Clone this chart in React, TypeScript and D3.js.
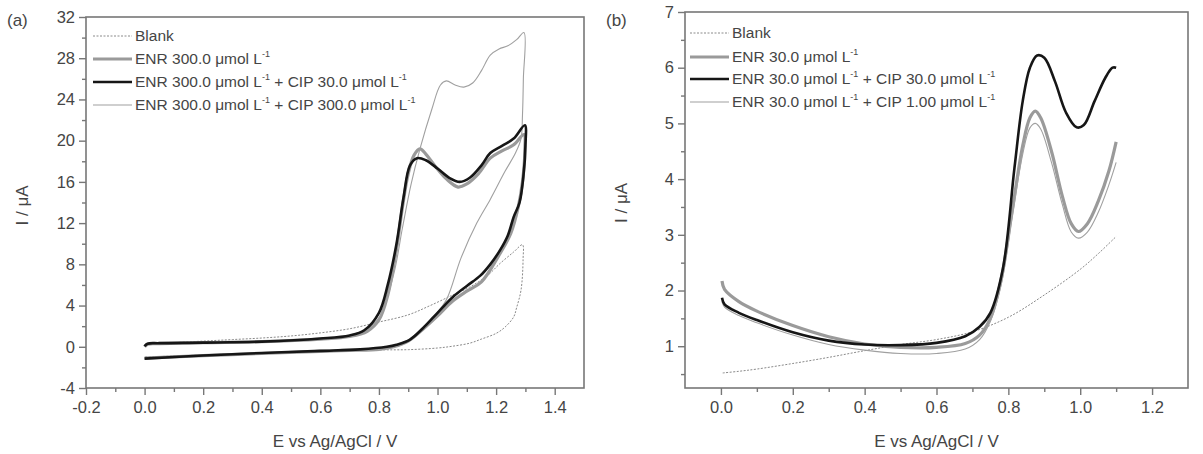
import React, { useEffect, useRef } from 'react';
import * as d3 from 'd3';

type Pt = [number, number];

// Panel (a): cyclic voltammograms, ENR 300 µmol/L
const aBlank: Pt[] = [
  [0.0, 0.15], [0.02, 0.3], [0.1, 0.4], [0.2, 0.55], [0.3, 0.7], [0.4, 0.85], [0.5, 1.05],
  [0.6, 1.35], [0.7, 1.75], [0.8, 2.4], [0.9, 3.1], [0.975, 4.0], [1.05, 5.0], [1.11, 5.8],
  [1.17, 6.9], [1.214, 8.1], [1.26, 9.2], [1.29, 9.9],
  [1.292, 8.5], [1.285, 5.5], [1.27, 3.8], [1.26, 2.9], [1.23, 1.9], [1.2, 1.3], [1.15, 0.75],
  [1.11, 0.35], [1.05, 0.05], [1.0, -0.12], [0.9, -0.28], [0.8, -0.3], [0.7, -0.35],
  [0.6, -0.45], [0.4, -0.6], [0.2, -0.8], [0.0, -1.0],
];
const aEnr: Pt[] = [
  [0.0, 0.0], [0.01, 0.25], [0.05, 0.3], [0.2, 0.4], [0.4, 0.5], [0.6, 0.75], [0.7, 1.0],
  [0.76, 1.5], [0.8, 2.6], [0.83, 5.0], [0.86, 9.5], [0.88, 13.5], [0.9, 16.8], [0.92, 18.6],
  [0.94, 19.2], [0.96, 18.7], [0.99, 17.6], [1.03, 16.3], [1.07, 15.5], [1.1, 15.8],
  [1.14, 16.8], [1.18, 18.3], [1.22, 19.0], [1.26, 19.6], [1.295, 20.6],
  [1.298, 19.0], [1.29, 16.0], [1.275, 13.5], [1.25, 11.0], [1.21, 8.9], [1.15, 6.3],
  [1.1, 5.4], [1.05, 4.4], [1.0, 3.0], [0.95, 1.7], [0.9, 0.55], [0.85, 0.0], [0.8, -0.25],
  [0.7, -0.35], [0.6, -0.45], [0.4, -0.65], [0.2, -0.85], [0.0, -1.1],
];
const aCip30: Pt[] = [
  [0.0, 0.05], [0.01, 0.3], [0.05, 0.35], [0.2, 0.4], [0.4, 0.5], [0.6, 0.8], [0.7, 1.1],
  [0.75, 1.6], [0.8, 3.3], [0.83, 6.0], [0.86, 10.0], [0.884, 14.5], [0.906, 17.6],
  [0.93, 18.3], [0.96, 18.1], [1.0, 17.3], [1.04, 16.4], [1.076, 16.0], [1.11, 16.4],
  [1.15, 17.6], [1.18, 18.8], [1.22, 19.5], [1.26, 20.2], [1.298, 21.5],
  [1.3, 19.5], [1.293, 16.5], [1.28, 14.0], [1.26, 12.6], [1.24, 10.8], [1.214, 9.4],
  [1.18, 8.0], [1.146, 6.9], [1.1, 5.9], [1.055, 4.9], [1.02, 3.9], [0.987, 2.9],
  [0.95, 1.8], [0.906, 0.7], [0.86, 0.2], [0.827, 0.0], [0.736, -0.25], [0.6, -0.4],
  [0.4, -0.6], [0.2, -0.85], [0.0, -1.15],
];
const aCip300: Pt[] = [
  [0.0, 0.05], [0.01, 0.3], [0.2, 0.4], [0.4, 0.5], [0.6, 0.8], [0.7, 1.1], [0.75, 1.6],
  [0.8, 2.8], [0.85, 7.0], [0.88, 11.5], [0.91, 15.8], [0.94, 19.2], [0.98, 23.0],
  [1.01, 25.4], [1.03, 25.8], [1.06, 25.4], [1.09, 25.2], [1.12, 25.6], [1.15, 26.8],
  [1.18, 28.3], [1.21, 28.9], [1.24, 29.2], [1.27, 29.8], [1.295, 30.5],
  [1.293, 26.0], [1.29, 22.5], [1.285, 20.2], [1.266, 18.8], [1.23, 17.0], [1.18, 14.3],
  [1.134, 12.0], [1.08, 8.6], [1.031, 4.6], [0.99, 3.0], [0.95, 1.8], [0.906, 0.7],
  [0.86, 0.15], [0.8, -0.2], [0.6, -0.4], [0.4, -0.6], [0.2, -0.85], [0.0, -1.1],
];

// Panel (b): ENR 30 µmol/L
const bBlank: Pt[] = [
  [0.005, 0.52], [0.05, 0.55], [0.1, 0.59], [0.2, 0.69], [0.3, 0.8], [0.4, 0.92], [0.5, 1.03],
  [0.6, 1.12], [0.7, 1.26], [0.8, 1.52], [0.9, 1.92], [1.0, 2.38], [1.05, 2.66], [1.1, 2.97],
];
const bEnr: Pt[] = [
  [0.003, 2.17], [0.01, 2.02], [0.05, 1.8], [0.1, 1.63], [0.2, 1.37], [0.3, 1.17], [0.4, 1.04],
  [0.5, 0.98], [0.6, 0.98], [0.68, 1.05], [0.72, 1.2], [0.75, 1.5], [0.78, 2.2], [0.81, 3.4],
  [0.84, 4.6], [0.86, 5.1], [0.875, 5.22], [0.89, 5.1], [0.92, 4.5], [0.95, 3.7], [0.975, 3.2],
  [0.995, 3.06], [1.02, 3.2], [1.05, 3.6], [1.08, 4.15], [1.1, 4.67],
];
const bCip30: Pt[] = [
  [0.003, 1.87], [0.01, 1.75], [0.05, 1.6], [0.1, 1.47], [0.2, 1.25], [0.3, 1.1], [0.4, 1.03],
  [0.5, 1.02], [0.6, 1.06], [0.68, 1.18], [0.72, 1.35], [0.75, 1.6], [0.785, 2.4], [0.817, 4.2],
  [0.84, 5.4], [0.86, 6.0], [0.88, 6.22], [0.9, 6.18], [0.93, 5.75], [0.96, 5.2], [0.99, 4.93],
  [1.01, 4.97], [1.04, 5.4], [1.07, 5.82], [1.09, 6.0], [1.1, 6.0],
];
const bCip1: Pt[] = [
  [0.003, 1.8], [0.01, 1.7], [0.05, 1.55], [0.1, 1.42], [0.2, 1.2], [0.3, 1.03], [0.4, 0.93],
  [0.5, 0.87], [0.6, 0.87], [0.68, 0.95], [0.72, 1.12], [0.75, 1.45], [0.78, 2.1], [0.81, 3.3],
  [0.84, 4.45], [0.86, 4.92], [0.875, 5.0], [0.89, 4.9], [0.92, 4.3], [0.95, 3.55], [0.975, 3.05],
  [0.995, 2.94], [1.02, 3.05], [1.05, 3.4], [1.08, 3.9], [1.1, 4.3],
];

const aLegend = [
  { main: 'Blank', sub: [] as string[] },
  { main: 'ENR 300.0 μmol L', sub: [''] },
  { main: 'ENR 300.0 μmol L', sub: [' + CIP 30.0 μmol L', ''] },
  { main: 'ENR 300.0 μmol L', sub: [' + CIP 300.0 μmol L', ''] },
];
const bLegend = [
  { main: 'Blank', sub: [] as string[] },
  { main: 'ENR 30.0 μmol L', sub: [''] },
  { main: 'ENR 30.0 μmol L', sub: [' + CIP 30.0 μmol L', ''] },
  { main: 'ENR 30.0 μmol L', sub: [' + CIP 1.00 μmol L', ''] },
];

const styles = [
  { stroke: '#8a8a8a', width: 1, dash: '2,1.5' },
  { stroke: '#9a9a9a', width: 3.2, dash: null },
  { stroke: '#161616', width: 2.6, dash: null },
  { stroke: '#a0a0a0', width: 1.1, dash: null },
];

const FONT = 'Arial, "Liberation Sans", sans-serif';
const TXT = '#454545';
const FRAME = '#777';

interface PanelProps {
  letter: string;
  box: { left: number; right: number; top: number; bottom: number };
  xDomain: [number, number];
  yDomain: [number, number];
  xTicks: number[];
  xMinor: number[];
  yTicks: number[];
  yMinor: number[];
  series: Pt[][];
  legend: { main: string; sub: string[] }[];
  legendX: number;
  legendY: number[];
}

const hyphen = (s: string) => s.replace('\u2212', '-');

const Panel: React.FC<PanelProps> = (p) => {
  const ref = useRef<SVGGElement>(null);

  useEffect(() => {
    const g = d3.select(ref.current);
    g.selectAll('*').remove();
    const { left, right, top, bottom } = p.box;

    const x = d3.scaleLinear().domain(p.xDomain).range([left, right]);
    const y = d3.scaleLinear().domain(p.yDomain).range([bottom, top]);

    // curves
    const line = d3.line<Pt>()
      .x(d => x(d[0]))
      .y(d => y(d[1]))
      .curve(d3.curveCatmullRom.alpha(0.5));

    const order = [0, 1, 3, 2];
    order.forEach(i => {
      const s = styles[i];
      g.append('path')
        .attr('d', line(p.series[i]))
        .attr('fill', 'none')
        .attr('stroke', s.stroke)
        .attr('stroke-width', s.width)
        .attr('stroke-dasharray', s.dash)
        .attr('stroke-linejoin', 'round');
    });

    // frame
    g.append('rect')
      .attr('x', left).attr('y', top)
      .attr('width', right - left).attr('height', bottom - top)
      .attr('fill', 'none').attr('stroke', FRAME).attr('stroke-width', 1.6);

    // axes (major + minor ticks, outward)
    const f1 = d3.format('.1f');
    g.append('g')
      .attr('transform', `translate(0,${bottom})`)
      .call(d3.axisBottom(x).tickValues(p.xTicks).tickSize(7).tickPadding(6).tickFormat(d => hyphen(f1(d as number))))
      .select('.domain').remove();
    g.append('g')
      .attr('transform', `translate(0,${bottom})`)
      .call(d3.axisBottom(x).tickValues(p.xMinor).tickSize(4).tickFormat(() => ''))
      .select('.domain').remove();

    g.append('g')
      .attr('transform', `translate(${left},0)`)
      .call(d3.axisLeft(y).tickValues(p.yTicks).tickSize(7).tickPadding(4).tickFormat(d => hyphen(String(d))))
      .select('.domain').remove();
    g.append('g')
      .attr('transform', `translate(${left},0)`)
      .call(d3.axisLeft(y).tickValues(p.yMinor).tickSize(4).tickFormat(() => ''))
      .select('.domain').remove();

    g.selectAll('.tick line').attr('stroke', FRAME).attr('stroke-width', 1.4);
    g.selectAll('.tick text')
      .attr('fill', TXT)
      .attr('font-size', 16.5)
      .attr('font-family', FONT);

    // titles
    g.append('text')
      .attr('x', (left + right) / 2)
      .attr('y', 447)
      .attr('text-anchor', 'middle')
      .attr('font-size', 17)
      .attr('font-family', FONT)
      .attr('fill', TXT)
      .text('E vs Ag/AgCl / V');

    g.append('text')
      .attr('transform', `translate(${left - 58},${(top + bottom) / 2 + 3}) rotate(-90)`)
      .attr('text-anchor', 'middle')
      .attr('font-size', 17)
      .attr('font-family', FONT)
      .attr('fill', TXT)
      .text('I / μA');

    g.append('text')
      .attr('x', left - 79)
      .attr('y', 26)
      .attr('font-size', 17)
      .attr('font-family', FONT)
      .attr('fill', TXT)
      .text(`(${p.letter})`);

    // legend
    p.legend.forEach((item, i) => {
      const s = styles[i];
      const ly = p.legendY[i];
      g.append('line')
        .attr('x1', p.legendX).attr('x2', p.legendX + 39)
        .attr('y1', ly).attr('y2', ly)
        .attr('stroke', s.stroke)
        .attr('stroke-width', s.width)
        .attr('stroke-dasharray', s.dash);
      const t = g.append('text')
        .attr('x', p.legendX + 42)
        .attr('y', ly + 5)
        .attr('font-size', 15.5)
        .attr('font-family', FONT)
        .attr('fill', TXT);
      t.append('tspan').text(item.main);
      item.sub.forEach(part => {
        t.append('tspan').attr('dy', -7).attr('font-size', 9).text('-1');
        if (part) t.append('tspan').attr('dy', 7).attr('font-size', 15.5).text(part);
      });
    });
  }, [p]);

  return <g ref={ref} />;
};

export default function App() {
  return (
    <svg
      width={1203}
      height={454}
      style={{ position: 'absolute', left: 0, top: 0, background: '#fff' }}
    >
      <Panel
        letter="a"
        box={{ left: 86, right: 584, top: 17, bottom: 388 }}
        xDomain={[-0.2, 1.5]}
        yDomain={[-4, 32]}
        xTicks={[-0.2, 0, 0.2, 0.4, 0.6, 0.8, 1.0, 1.2, 1.4]}
        xMinor={[-0.1, 0.1, 0.3, 0.5, 0.7, 0.9, 1.1, 1.3]}
        yTicks={[-4, 0, 4, 8, 12, 16, 20, 24, 28, 32]}
        yMinor={[-2, 2, 6, 10, 14, 18, 22, 26, 30]}
        series={[aBlank, aEnr, aCip30, aCip300]}
        legend={aLegend}
        legendX={93}
        legendY={[36, 59, 82, 105]}
      />
      <Panel
        letter="b"
        box={{ left: 685, right: 1188, top: 12, bottom: 388 }}
        xDomain={[-0.1, 1.3]}
        yDomain={[0.25, 7]}
        xTicks={[0, 0.2, 0.4, 0.6, 0.8, 1.0, 1.2]}
        xMinor={[0.1, 0.3, 0.5, 0.7, 0.9, 1.1]}
        yTicks={[1, 2, 3, 4, 5, 6, 7]}
        yMinor={[0.5, 1.5, 2.5, 3.5, 4.5, 5.5, 6.5]}
        series={[bBlank, bEnr, bCip30, bCip1]}
        legend={bLegend}
        legendX={690}
        legendY={[33, 57, 79, 102]}
      />
    </svg>
  );
}
